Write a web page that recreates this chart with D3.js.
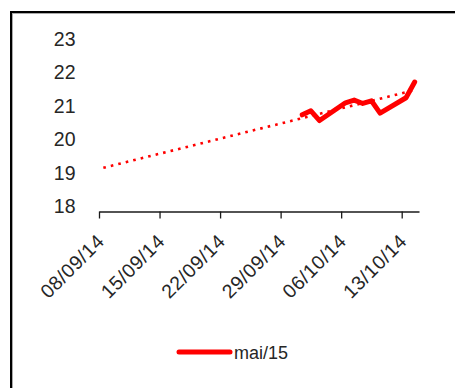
<!DOCTYPE html>
<html>
<head>
<meta charset="utf-8">
<script src="https://cdn.jsdelivr.net/npm/d3@7"></script>
<style>
  html, body { margin: 0; padding: 0; background: #fff; }
  svg { display: block; }
  text { font-family: "Liberation Sans", Arial, sans-serif; fill: #262626; }
</style>
</head>
<body>
<svg id="chart" width="455" height="388"></svg>
<script>
// ---- data ----
const dates = ["2014-10-01","2014-10-02","2014-10-03","2014-10-06","2014-10-07",
               "2014-10-08","2014-10-09","2014-10-10","2014-10-13","2014-10-14"];
const values = [20.87, 20.99, 20.70, 21.23, 21.31, 21.21, 21.29, 20.92, 21.38, 21.85];
const trendDates = ["2014-09-08", "2014-10-14"];
const trendValues = [19.29, 21.61];
const xTickLabels = ["08/09/14","15/09/14","22/09/14","29/09/14","06/10/14","13/10/14"];
const yTicks = [18, 19, 20, 21, 22, 23];
const seriesName = "mai/15";

// ---- setup ----
const parse = d3.utcParse("%Y-%m-%d");
const svg = d3.select("#chart");

// outer border
svg.append("rect").attr("x", 11).attr("y", 12).attr("width", 470).attr("height", 400)
  .attr("fill", "none").attr("stroke", "#000").attr("stroke-width", 2);
svg.append("rect").attr("x", 12.5).attr("y", 13.5).attr("width", 470).attr("height", 400)
  .attr("fill", "none").attr("stroke", "#aaa").attr("stroke-width", 1);

const x = d3.scaleUtc()
  .domain([parse("2014-09-08"), parse("2014-10-15")])
  .range([99, 419]);
const y = d3.scaleLinear().domain([18, 23]).range([211, 43.5]);
const halfDay = 12 * 3600 * 1000;
const xc = d => x(new Date(d.getTime() + halfDay));

// y labels
svg.append("g").selectAll("text").data(yTicks).join("text")
  .attr("x", 75.5).attr("y", d => y(d) - 3)
  .attr("text-anchor", "end").attr("dominant-baseline", "middle")
  .style("font-size", "19.5px")
  .text(d => d);

// x axis
const tickDates = xTickLabels.map(s => {
  const [dd, mm, yy] = s.split("/");
  return parse("20" + yy + "-" + mm + "-" + dd);
});
const xAxis = d3.axisBottom(x).tickValues(tickDates).tickSize(7).tickSizeOuter(0)
  .tickFormat((d, i) => xTickLabels[i]);
const gx = svg.append("g").attr("transform", "translate(0,211.5)").call(xAxis);
gx.select(".domain").attr("stroke", "#1a1a1a").attr("stroke-width", 1.3);
gx.selectAll(".tick line").attr("stroke", "#1a1a1a").attr("stroke-width", 1.3);
gx.selectAll(".tick text")
  .attr("y", 0).attr("dy", 0)
  .attr("text-anchor", "end")
  .attr("transform", "translate(6,31) rotate(-45)")
  .style("font-size", "19.5px")
  .style("letter-spacing", "0.6px")
  .style("font-family", "'Liberation Sans', Arial, sans-serif")
  .attr("fill", "#262626");

// trendline
const trend = trendDates.map((d, i) => ({ date: parse(d), value: trendValues[i] }));
svg.append("path").datum(trend)
  .attr("fill", "none").attr("stroke", "#ff0000").attr("stroke-width", 2.6)
  .attr("stroke-dasharray", "2.6 5.1")
  .attr("d", d3.line().x(d => xc(d.date)).y(d => y(d.value)));

// series
const series = dates.map((d, i) => ({ date: parse(d), value: values[i] }));
svg.append("path").datum(series)
  .attr("fill", "none").attr("stroke", "#ff0000").attr("stroke-width", 5)
  .attr("stroke-linejoin", "round").attr("stroke-linecap", "round")
  .attr("d", d3.line().x(d => xc(d.date)).y(d => y(d.value)));

// legend
svg.append("line").attr("x1", 179).attr("x2", 230).attr("y1", 352).attr("y2", 352)
  .attr("stroke", "#ff0000").attr("stroke-width", 5).attr("stroke-linecap", "round");
svg.append("text").attr("x", 234).attr("y", 358.5)
  .style("font-size", "18px").text(seriesName);
</script>
</body>
</html>
